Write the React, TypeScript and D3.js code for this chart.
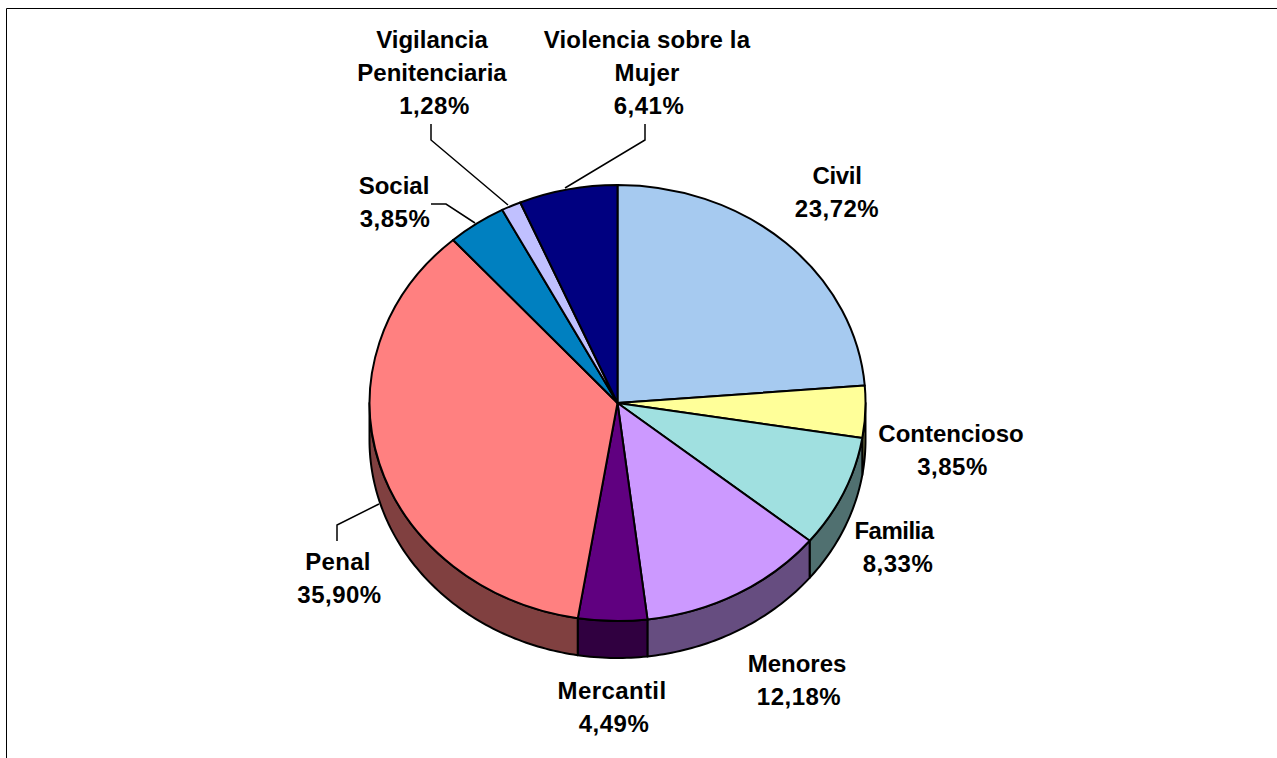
import React from "react";
import * as d3 from "d3";

const categories = ["Civil", "Contencioso", "Familia", "Menores", "Mercantil", "Penal", "Social", "Vigilancia Penitenciaria", "Violencia sobre la Mujer"];
const values = [23.72, 3.85, 8.33, 12.18, 4.49, 35.9, 3.85, 1.28, 6.41];
const valueLabels = ["23,72%", "3,85%", "8,33%", "12,18%", "4,49%", "35,90%", "3,85%", "1,28%", "6,41%"];
const colors = ["#A6CAF0", "#FFFF99", "#A0E0E0", "#CC99FF", "#600080", "#FF8080", "#0080C0", "#C0C0FF", "#000080"];

// label layout: centre x, first baseline y, broken lines, small glyph-fit adjustments
const labelLines = [["Civil"], ["Contencioso"], ["Familia"], ["Menores"], ["Mercantil"], ["Penal"], ["Social"], ["Vigilancia", "Penitenciaria"], ["Violencia sobre la", "Mujer"]];
const labelX = [837, 951, 894, 797, 612, 338, 394, 432, 647];
const labelY = [184, 442, 539, 672, 699, 570, 194, 48, 48];
const valueDx = [0, 1.5, 4, 2, 2, 1.5, 1, 2.5, 2];
const nameSpacing = [-0.3, 0, -0.5, 0, 0.4, 0.3, 0, 0, 0.15];
const leaders: [number, number][][] = [
  [[337, 541], [337, 525], [379, 504]],
  [[431, 204], [446, 204], [475, 223]],
  [[431, 124], [431, 140], [508, 205]],
  [[645, 124], [645, 140], [565, 188]],
];

const CX = 617.5, CY = 403, RX = 248, RY = 218, DEPTH = 37;
const LINE = 33;
const TAU = Math.PI * 2;
const px = (a: number) => CX + RX * Math.sin(a);
const py = (a: number) => CY - RY * Math.cos(a);

function wallPath(a0: number, a1: number): string | null {
  const s = Math.max(a0, Math.PI / 2), e = Math.min(a1, (3 * Math.PI) / 2);
  if (e <= s) return null;
  const n = Math.max(2, Math.ceil((e - s) * 60));
  const angs = d3.range(n + 1).map((i) => s + ((e - s) * i) / n);
  const top = angs.map((a) => [px(a), py(a)] as [number, number]);
  const bot = angs.slice().reverse().map((a) => [px(a), py(a) + DEPTH] as [number, number]);
  return d3.line()([...top, ...bot]) + "Z";
}

export default function App() {
  const arcs = d3.pie<number>().sort(null).startAngle(0).endAngle(TAU)(values);
  const arc = d3.arc<d3.PieArcDatum<number>>().innerRadius(0).outerRadius(1);
  const stroke = { stroke: "#000", strokeWidth: 2, strokeLinejoin: "round" as const };
  return (
    <svg width={1277} height={758} style={{ position: "fixed", left: 0, top: 0, background: "#fff", display: "block" }}>
      <path d="M6.5 758V8.5H1277" fill="none" stroke="#000" strokeWidth={1} />
      {arcs.map((d, i) => {
        const p = wallPath(d.startAngle, d.endAngle);
        const c = d3.rgb(colors[i]);
        return p ? <path key={i} d={p} fill={d3.rgb(c.r * 0.5, c.g * 0.5, c.b * 0.5).formatHex()} {...stroke} /> : null;
      })}
      {arcs.map((d, i) => (
        <path
          key={i}
          d={arc(d) as string}
          transform={`translate(${CX},${CY}) scale(${RX},${RY})`}
          fill={colors[i]}
          vectorEffect="non-scaling-stroke"
          {...stroke}
        />
      ))}
      {leaders.map((l, i) => (
        <path key={i} d={d3.line()(l) as string} fill="none" stroke="#000" strokeWidth={1.5} />
      ))}
      <g fontFamily="'Liberation Sans', Arial, sans-serif" fontWeight="bold" fontSize={24} textAnchor="middle" fill="#000">
        {categories.map((c, i) => (
          <text key={c} x={labelX[i]} y={labelY[i]}>
            {labelLines[i].map((t, j) => (
              <tspan key={j} x={labelX[i]} y={labelY[i] + j * LINE} letterSpacing={nameSpacing[i]}>{t}</tspan>
            ))}
            <tspan x={labelX[i] + valueDx[i]} y={labelY[i] + labelLines[i].length * LINE} letterSpacing={0.5}>{valueLabels[i]}</tspan>
          </text>
        ))}
      </g>
    </svg>
  );
}
